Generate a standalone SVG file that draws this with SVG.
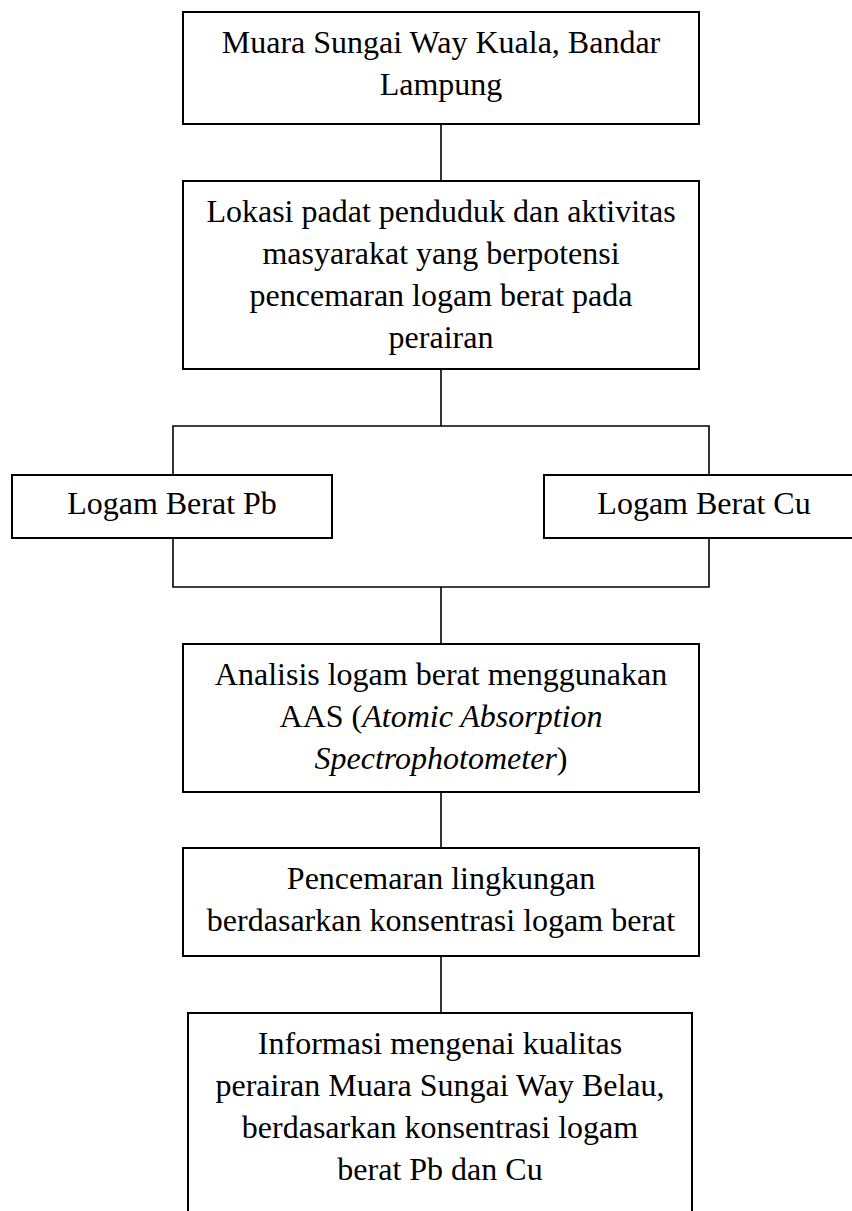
<svg xmlns="http://www.w3.org/2000/svg" width="852" height="1211" viewBox="0 0 852 1211">
<style>
.box{fill:#fff;stroke:#000;stroke-width:2}
.ln{fill:none;stroke:#000;stroke-width:1.6}
text{font-family:"Liberation Serif","Times New Roman",serif;font-size:32px;fill:#000;text-anchor:middle}
.it{font-style:italic}
</style>
<rect width="852" height="1211" fill="#fff"/>
<g id="connectors">
<path class="ln" d="M441 124V181"/>
<path class="ln" d="M441 369V426"/>
<path class="ln" d="M173 475V426H709V475"/>
<path class="ln" d="M173 538V587H709V538"/>
<path class="ln" d="M441 587V644"/>
<path class="ln" d="M441 792V848"/>
<path class="ln" d="M441 956V1013"/>
</g>
<g id="n1">
<rect class="box" x="183" y="12" width="516" height="112"/>
<text x="441" y="53">Muara Sungai Way Kuala, Bandar</text>
<text x="441" y="95">Lampung</text>
</g>
<g id="n2">
<rect class="box" x="183" y="181" width="516" height="188"/>
<text x="441" y="222">Lokasi padat penduduk dan aktivitas</text>
<text x="441" y="264">masyarakat yang berpotensi</text>
<text x="441" y="306">pencemaran logam berat pada</text>
<text x="441" y="348">perairan</text>
</g>
<g id="n3">
<rect class="box" x="12" y="475" width="320" height="63"/>
<text x="172" y="514">Logam Berat Pb</text>
</g>
<g id="n4">
<rect class="box" x="544" y="475" width="320" height="63"/>
<text x="704" y="514">Logam Berat Cu</text>
</g>
<g id="n5">
<rect class="box" x="183" y="644" width="516" height="148"/>
<text x="441" y="685">Analisis logam berat menggunakan</text>
<text x="441" y="727">AAS (<tspan class="it">Atomic Absorption</tspan></text>
<text x="441" y="769"><tspan class="it">Spectrophotometer</tspan>)</text>
</g>
<g id="n6">
<rect class="box" x="183" y="848" width="516" height="108"/>
<text x="441" y="889">Pencemaran lingkungan</text>
<text x="441" y="931">berdasarkan konsentrasi logam berat</text>
</g>
<g id="n7">
<rect class="box" x="188" y="1013" width="504" height="210"/>
<text x="440" y="1054">Informasi mengenai kualitas</text>
<text x="440" y="1096">perairan Muara Sungai Way Belau,</text>
<text x="440" y="1138">berdasarkan konsentrasi logam</text>
<text x="440" y="1180">berat Pb dan Cu</text>
</g>
</svg>
